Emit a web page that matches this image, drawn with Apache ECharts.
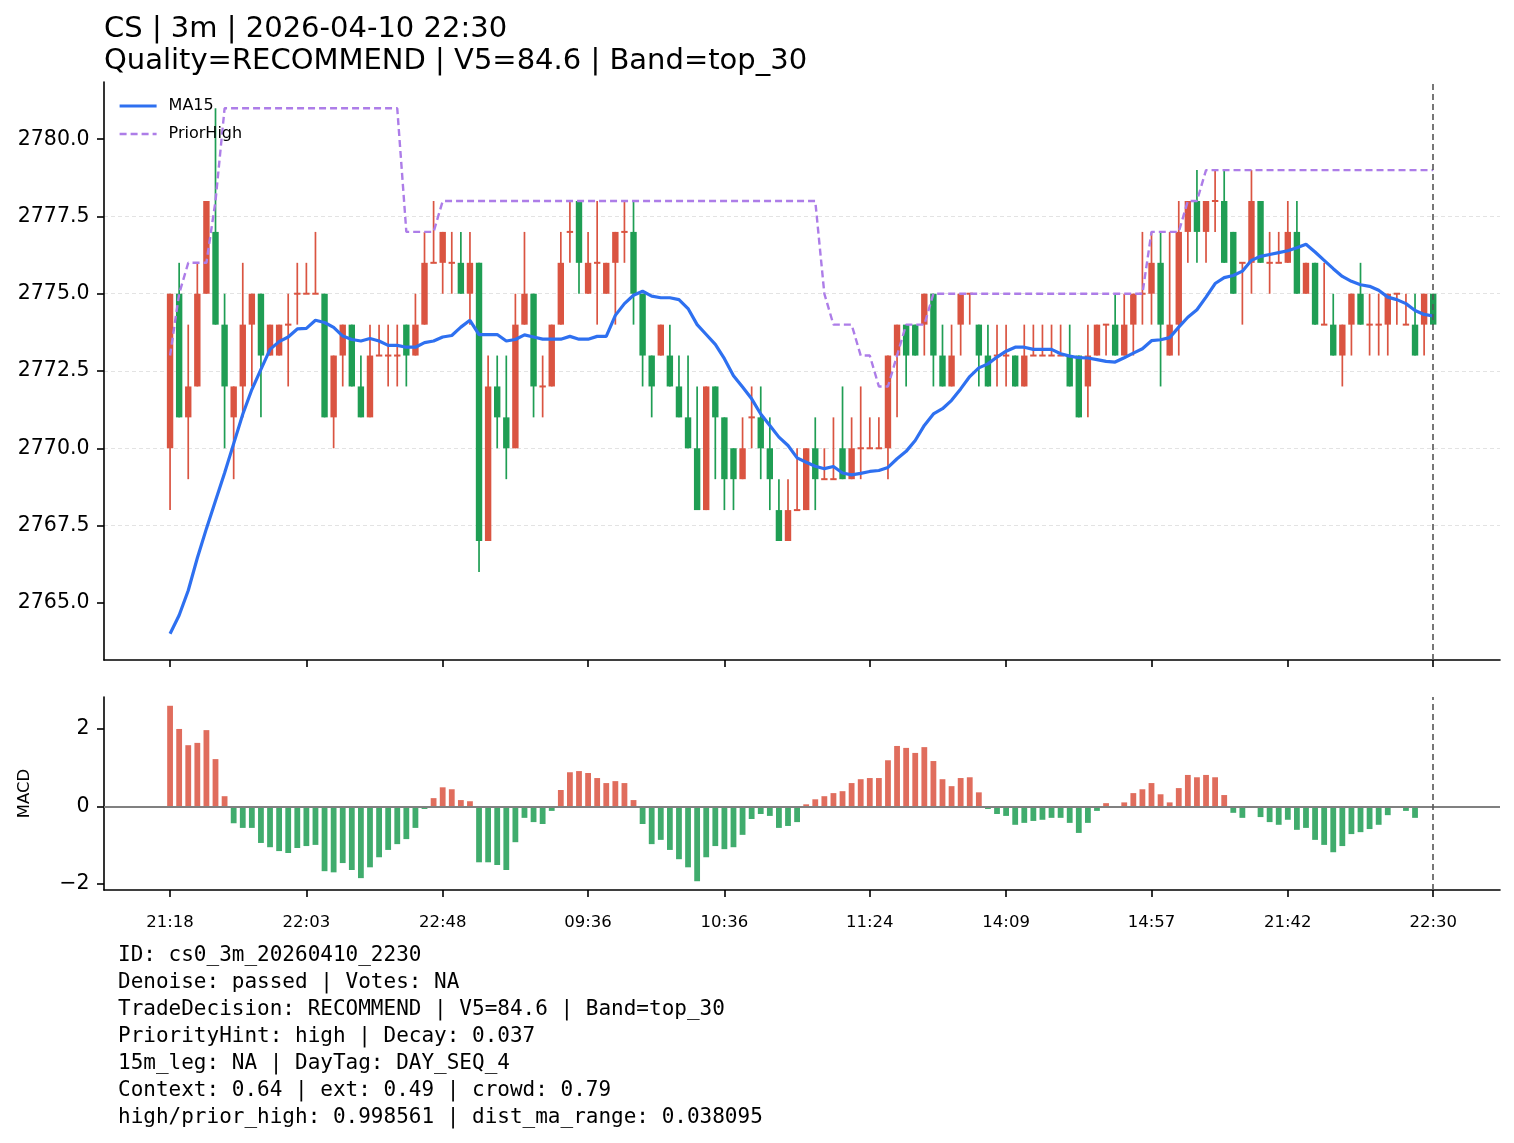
<!DOCTYPE html>
<html>
<head>
<meta charset="utf-8">
<script src="https://cdn.jsdelivr.net/npm/echarts@6/dist/echarts.min.js"></script>
<style>
html,body{margin:0;padding:0;background:#fff;}
#chart{width:1514px;height:1143px;}
</style>
</head>
<body>
<div id="chart"></div>
<script>
// ---- data ----
const sessions = [['21:18','22:57'],['09:00','10:12'],['10:30','11:27'],['13:30','14:57'],['21:00','22:30']];
const opens = [2770,2775,2771,2772,2775,2777,2774,2771,2772,2774,
2775,2773,2773,2774,2775,2775,2775,2775,2771,2773,
2774,2772,2771,2773,2773,2773,2774,2773,2774,2776,
2776,2776,2776,2775,2776,2767,2772,2771,2770,2774,
2775,2772,2772,2774,2777,2778,2775,2776,2775,2776,
2777,2777,2775,2773,2773,2773,2772,2771,2770,2768,
2772,2771,2770,2769,2771,2771,2770,2768,2767,2768,
2768,2770,2769,2769,2770,2769,2770,2770,2770,2770,
2773,2774,2774,2774,2775,2773,2772,2774,2775,2774,
2773,2773,2773,2773,2772,2773,2773,2773,2773,2773,
2773,2772,2773,2774,2774,2773,2774,2775,2775,2776,
2773,2774,2777,2778,2777,2778,2778,2777,2776,2776,
2778,2776,2776,2776,2777,2775,2776,2774,2774,2773,
2774,2775,2774,2774,2774,2775,2774,2774,2774,2775];
const highs = [2775,2776,2774,2776,2778,2781,2775,2772,2776,2775,
2775,2774,2774,2775,2776,2776,2777,2775,2773,2774,
2774,2773,2774,2774,2774,2774,2774,2775,2777,2778,
2777,2777,2777,2777,2776,2773,2773,2773,2775,2777,
2775,2773,2774,2777,2778,2778,2777,2778,2776,2777,
2778,2778,2775,2773,2774,2774,2773,2773,2772,2772,
2772,2771,2770,2771,2772,2772,2771,2769,2769,2770,
2770,2771,2770,2771,2772,2771,2772,2771,2771,2773,
2774,2774,2774,2775,2775,2774,2774,2775,2775,2774,
2774,2774,2774,2773,2774,2774,2774,2774,2774,2774,
2773,2774,2774,2774,2775,2775,2775,2777,2777,2777,
2777,2778,2778,2779,2778,2779,2779,2777,2776,2779,
2778,2777,2777,2778,2778,2776,2776,2776,2775,2774,
2775,2776,2775,2775,2775,2775,2775,2775,2775,2775];
const lows = [2768,2771,2769,2772,2775,2774,2770,2769,2771,2772,
2771,2773,2773,2772,2774,2775,2775,2771,2770,2772,
2772,2771,2771,2773,2772,2772,2772,2773,2774,2776,
2775,2775,2775,2774,2766,2767,2770,2769,2770,2774,
2771,2771,2772,2774,2776,2775,2775,2774,2775,2774,
2776,2774,2772,2771,2773,2772,2771,2770,2768,2768,
2769,2768,2768,2769,2770,2769,2768,2767,2767,2768,
2768,2768,2769,2769,2769,2769,2769,2770,2770,2769,
2771,2772,2773,2773,2772,2772,2772,2773,2774,2772,
2772,2772,2772,2772,2772,2773,2773,2773,2773,2772,
2771,2771,2773,2773,2773,2773,2773,2774,2774,2772,
2773,2773,2776,2776,2776,2777,2776,2775,2774,2775,
2776,2775,2776,2776,2775,2775,2774,2774,2773,2772,
2773,2774,2773,2773,2773,2774,2774,2773,2773,2774];
const closes = [2775,2771,2772,2775,2778,2774,2772,2772,2774,2775,
2773,2774,2774,2774,2775,2775,2775,2771,2773,2774,
2772,2771,2773,2773,2773,2773,2773,2774,2776,2776,
2777,2776,2775,2776,2767,2772,2771,2770,2774,2775,
2772,2772,2774,2776,2777,2776,2776,2776,2776,2777,
2777,2775,2773,2772,2774,2772,2771,2770,2768,2772,
2771,2769,2769,2770,2771,2770,2769,2767,2768,2768,
2770,2769,2769,2769,2769,2770,2770,2770,2770,2773,
2774,2773,2773,2775,2773,2772,2773,2775,2775,2773,
2772,2773,2773,2772,2773,2773,2773,2773,2773,2772,
2771,2773,2774,2774,2773,2774,2775,2775,2776,2774,
2774,2777,2778,2777,2778,2778,2776,2775,2776,2778,
2776,2776,2776,2777,2775,2776,2774,2774,2773,2774,
2775,2774,2774,2774,2775,2775,2774,2773,2775,2774];
const ma15 = [2764.0,2764.6,2765.4,2766.45,2767.4,2768.3,2769.2,2770.15,2771.1,2771.9,
2772.55,2773.2,2773.45,2773.6,2773.86,2773.88,2774.14,2774.07,2773.91,2773.63,
2773.52,2773.47,2773.55,2773.47,2773.33,2773.33,2773.27,2773.27,2773.42,2773.47,
2773.6,2773.65,2773.92,2774.14,2773.68,2773.68,2773.68,2773.47,2773.52,2773.67,
2773.6,2773.53,2773.53,2773.53,2773.62,2773.53,2773.53,2773.62,2773.62,2774.3,
2774.68,2774.95,2775.08,2774.92,2774.87,2774.87,2774.81,2774.52,2774.0,2773.68,
2773.36,2772.9,2772.35,2771.98,2771.6,2771.11,2770.74,2770.36,2770.09,2769.69,
2769.55,2769.42,2769.34,2769.41,2769.2,2769.14,2769.19,2769.25,2769.28,2769.38,
2769.66,2769.9,2770.25,2770.74,2771.11,2771.28,2771.55,2771.92,2772.32,2772.6,
2772.73,2772.95,2773.14,2773.27,2773.27,2773.2,2773.2,2773.2,2773.06,2772.98,
2772.93,2772.92,2772.87,2772.81,2772.79,2772.93,2773.08,2773.22,2773.48,2773.51,
2773.58,2773.92,2774.24,2774.48,2774.89,2775.33,2775.52,2775.59,2775.73,2776.08,
2776.21,2776.27,2776.33,2776.39,2776.49,2776.6,2776.35,2776.08,2775.81,2775.56,
2775.4,2775.29,2775.24,2775.11,2774.89,2774.81,2774.68,2774.46,2774.33,2774.28];
const priorHigh = [2773,2775,2776,2776,2776,2778,2781,2781,2781,2781,
2781,2781,2781,2781,2781,2781,2781,2781,2781,2781,
2781,2781,2781,2781,2781,2781,2777,2777,2777,2777,
2778,2778,2778,2778,2778,2778,2778,2778,2778,2778,
2778,2778,2778,2778,2778,2778,2778,2778,2778,2778,
2778,2778,2778,2778,2778,2778,2778,2778,2778,2778,
2778,2778,2778,2778,2778,2778,2778,2778,2778,2778,
2778,2778,2775,2774,2774,2774,2773,2773,2772,2772,
2773,2774,2774,2774,2775,2775,2775,2775,2775,2775,
2775,2775,2775,2775,2775,2775,2775,2775,2775,2775,
2775,2775,2775,2775,2775,2775,2775,2775,2777,2777,
2777,2777,2778,2778,2779,2779,2779,2779,2779,2779,
2779,2779,2779,2779,2779,2779,2779,2779,2779,2779,
2779,2779,2779,2779,2779,2779,2779,2779,2779,2779];
const macd = [2.60,2.00,1.58,1.64,1.97,1.22,0.26,-0.44,-0.56,-0.56,
-0.95,-1.06,-1.16,-1.21,-1.08,-1.03,-1.00,-1.68,-1.71,-1.47,
-1.65,-1.86,-1.58,-1.32,-1.13,-0.98,-0.85,-0.56,-0.07,0.21,
0.49,0.44,0.16,0.13,-1.45,-1.45,-1.52,-1.65,-0.93,-0.30,
-0.41,-0.46,-0.12,0.42,0.88,0.91,0.86,0.73,0.60,0.65,
0.60,0.16,-0.46,-0.98,-0.87,-1.13,-1.37,-1.58,-1.94,-1.32,
-1.03,-1.11,-1.06,-0.74,-0.33,-0.20,-0.25,-0.56,-0.51,-0.41,
0.05,0.18,0.26,0.34,0.39,0.60,0.70,0.73,0.73,1.19,
1.56,1.51,1.38,1.53,1.17,0.70,0.52,0.73,0.75,0.36,
-0.07,-0.20,-0.25,-0.48,-0.43,-0.38,-0.35,-0.30,-0.30,-0.43,
-0.69,-0.43,-0.12,0.08,0.00,0.10,0.34,0.44,0.60,0.31,
0.10,0.47,0.81,0.75,0.81,0.75,0.29,-0.17,-0.30,0.00,
-0.28,-0.41,-0.48,-0.35,-0.61,-0.56,-0.87,-1.00,-1.19,-1.03,
-0.72,-0.67,-0.59,-0.48,-0.23,0.00,-0.12,-0.30,0.00,0.00];
const xTickIdx = [0,15,30,46,61,77,92,108,123,139];
const priceTicks = [2765,2767.5,2770,2772.5,2775,2777.5,2780];
const macdTicks = [-2,0,2];
const markIdx = 139;
const titleLines = ['CS | 3m | 2026-04-10 22:30','Quality=RECOMMEND | V5=84.6 | Band=top_30'];
const infoLines = [
 'ID: cs0_3m_20260410_2230',
 'Denoise: passed | Votes: NA',
 'TradeDecision: RECOMMEND | V5=84.6 | Band=top_30',
 'PriorityHint: high | Decay: 0.037',
 '15m_leg: NA | DayTag: DAY_SEQ_4',
 'Context: 0.64 | ext: 0.49 | crowd: 0.79',
 'high/prior_high: 0.998561 | dist_ma_range: 0.038095'
];

// ---- build categories (bar start times) ----
function toMin(s){const p=s.split(':');return (+p[0])*60+(+p[1]);}
function fmt(m){const h=Math.floor(m/60),mm=m%60;return String(h).padStart(2,'0')+':'+String(mm).padStart(2,'0');}
const categories = [];
sessions.forEach(([a,b])=>{for(let m=toMin(a);m<=toMin(b);m+=3)categories.push(fmt(m));});

const RED = '#da5441', GREEN = '#1f9e54';
const MA_COLOR = '#2e70f0', PH_COLOR = '#ad7de8';
const candleRows = opens.map((o,i)=>[i,o,closes[i],lows[i],highs[i]]);
const maRows = ma15.map((v,i)=>[i,v]);
const phRows = priorHigh.map((v,i)=>[i,v]);
const macdRows = macd.map((v,i)=>({value:[i,v],itemStyle:{color:v>=0?RED:GREEN,opacity:0.85}}));

function renderCandle(params, api){
  const x=api.value(0),o=api.value(1),c=api.value(2),l=api.value(3),h=api.value(4);
  const po=api.coord([x,o]),pc=api.coord([x,c]),pl=api.coord([x,l]),ph=api.coord([x,h]);
  const color=c>=o?RED:GREEN;
  const w=6.4;
  let top=Math.min(po[1],pc[1]),hg=Math.abs(po[1]-pc[1]);
  if(hg<2){top-= (2-hg)/2;hg=2;}
  return {type:'group',children:[
    {type:'line',shape:{x1:ph[0],y1:ph[1],x2:pl[0],y2:pl[1]},style:{stroke:color,lineWidth:1.7}},
    {type:'rect',shape:{x:po[0]-w/2,y:top,width:w,height:hg},style:{fill:color}}
  ]};
}

const FONT='DejaVu Sans';
const axisLineStyle={color:'#000',width:1.6};
const xBase = {type:'value',min:-7.27,max:146.35,
  axisLine:{show:true,onZero:false,lineStyle:axisLineStyle},
  axisTick:{show:true,length:7,lineStyle:axisLineStyle,customValues:xTickIdx},
  splitLine:{show:false}};
const chart=echarts.init(document.getElementById('chart'),null,{renderer:'canvas'});
chart.setOption({
  animation:false,
  backgroundColor:'#fff',
  title:{text:titleLines.join('\n'),left:104,top:13,padding:0,
    textStyle:{fontFamily:FONT,fontSize:29,fontWeight:'normal',color:'#000',lineHeight:32}},
  legend:{left:118,top:98,padding:0,orient:'vertical',itemWidth:37,itemHeight:14,itemGap:12,
    itemStyle:{color:'rgba(0,0,0,0)',borderColor:'rgba(0,0,0,0)',borderWidth:0,opacity:0},
    lineStyle:{width:3},
    data:[{name:'MA15',lineStyle:{width:3.2,color:MA_COLOR}},
          {name:'PriorHigh',lineStyle:{width:2.4,color:PH_COLOR,type:[7,4]}}],
    textStyle:{fontFamily:FONT,fontSize:16,color:'#000',padding:[0,0,0,7]}},
  grid:[{left:104,top:82,width:1396,height:578},{left:104,top:697,width:1396,height:193}],
  xAxis:[
    Object.assign({},xBase,{gridIndex:0,axisLabel:{show:false}}),
    Object.assign({},xBase,{gridIndex:1,axisLabel:{show:true,customValues:xTickIdx,margin:24,
      fontFamily:FONT,fontSize:16.5,color:'#000',formatter:v=>categories[Math.round(v)]}})
  ],
  yAxis:[
    {type:'value',gridIndex:0,min:2763.15,max:2781.85,
     axisLine:{show:true,onZero:false,lineStyle:axisLineStyle},
     axisTick:{show:true,length:7,lineStyle:axisLineStyle,customValues:priceTicks},
     axisLabel:{customValues:priceTicks,margin:14.5,fontFamily:FONT,fontSize:20.5,color:'#000',formatter:v=>v.toFixed(1)},
     splitLine:{show:true,showMinLine:false,showMaxLine:false,lineStyle:{color:'#e3e3e3',type:[4,3],width:1}}},
    {type:'value',gridIndex:1,min:-2.167,max:2.827,
     name:'MACD',nameLocation:'middle',nameGap:71,nameRotate:90,
     nameTextStyle:{fontFamily:FONT,fontSize:16.5,color:'#000'},
     axisLine:{show:true,onZero:false,lineStyle:axisLineStyle},
     axisTick:{show:true,length:7,lineStyle:axisLineStyle,customValues:macdTicks},
     axisLabel:{customValues:macdTicks,margin:14.5,fontFamily:FONT,fontSize:20.5,color:'#000',
       formatter:v=>v<0?'\u2212'+Math.abs(v):String(v)},
     splitLine:{show:true,showMinLine:false,showMaxLine:false,lineStyle:{color:'#e3e3e3',type:[4,3],width:1}}}
  ],
  series:[
    {type:'custom',name:'candles',xAxisIndex:0,yAxisIndex:0,renderItem:renderCandle,
     data:candleRows,encode:{x:0,y:[1,2,3,4]},z:2,silent:true},
    {type:'line',name:'MA15',xAxisIndex:0,yAxisIndex:0,data:maRows,symbol:'none',z:4,
     lineStyle:{color:MA_COLOR,width:3.2},itemStyle:{color:MA_COLOR},silent:true,
     markLine:{silent:true,symbol:['none','none'],label:{show:false},
       lineStyle:{color:'#555',type:[6,4],width:1.6},data:[{xAxis:markIdx}]}},
    {type:'line',name:'PriorHigh',xAxisIndex:0,yAxisIndex:0,data:phRows,symbol:'none',z:3,
     lineStyle:{color:PH_COLOR,width:2.4,type:[7,4]},itemStyle:{color:PH_COLOR},silent:true},
    {type:'bar',name:'MACD',xAxisIndex:1,yAxisIndex:1,data:macdRows,barWidth:5.8,silent:true,
     markLine:{silent:true,symbol:['none','none'],label:{show:false},
       data:[{yAxis:0,lineStyle:{color:'#808080',type:'solid',width:1.8}},
             {xAxis:markIdx,lineStyle:{color:'#555',type:[6,4],width:1.6}}]}}
  ],
  graphic:[{type:'text',left:118,top:942.5,
    style:{text:infoLines.join('\n'),fontFamily:'DejaVu Sans Mono',fontSize:21,lineHeight:26.9,fill:'#000'}}]
});
</script>
</body>
</html>
